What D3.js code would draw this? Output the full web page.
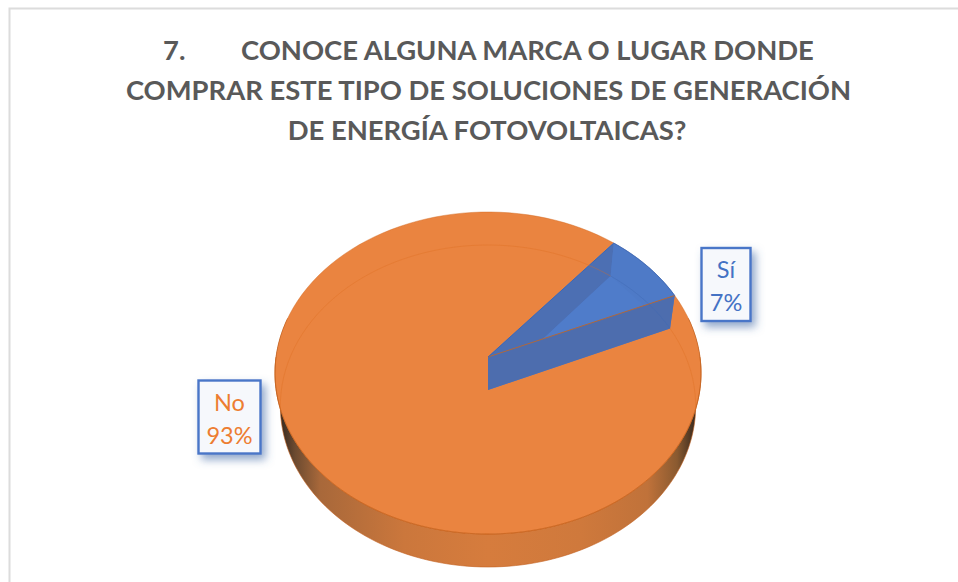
<!DOCTYPE html>
<html><head><meta charset="utf-8">
<style>html,body{margin:0;padding:0;background:#fff}svg{display:block}</style>
<script src="https://cdn.jsdelivr.net/npm/d3@7"></script></head>
<body><svg id="c" width="958" height="582"></svg>
<script>
const categories = ["Sí", "No"];
const seriesValues = [0.074, 0.926];
const sliceColors = ["#4e7ac7", "#ea8440"];
const labelColors = ["#4472c4", "#ed7d31"];
const titleNumber = "7.";
const titleLines = ["CONOCE ALGUNA MARCA O LUGAR DONDE",
  "COMPRAR ESTE TIPO DE SOLUCIONES DE GENERACIÓN",
  "DE ENERGÍA FOTOVOLTAICAS?"];

const svg = d3.select("#c");
const W = 958, H = 582;
const defs = svg.append("defs");

// frame
svg.append("path").attr("d", `M${W},8.5H9.5V${H}`).attr("fill","none").attr("stroke","#dcdcdc").attr("stroke-width",2);

// title
const title = svg.append("g").attr("fill","#595959").attr("font-family","Lato, 'Open Sans', sans-serif")
  .attr("font-weight",700).attr("font-size",27.4);
title.append("text").attr("x",163).attr("y",60).text(titleNumber);
title.append("text").attr("x",241).attr("y",60).text(titleLines[0]);
title.append("text").attr("x",488.5).attr("y",100).attr("text-anchor","middle").text(titleLines[1]);
title.append("text").attr("x",487).attr("y",140).attr("text-anchor","middle").text(titleLines[2]);

// perspective projection of a unit circle
const cx = 488, cyTop = 357, depth = 33;
const backR = 145, frontR = 177, rx = 213, bottomScale = 0.975;
const persp = (frontR - backR) / (frontR + backR);
const ay = backR * (1 + persp);
const dx = rx * Math.sqrt(1 - persp * persp);
const su = d3.scaleLinear().domain([-1,1]).range([-dx,dx]);
const sv = d3.scaleLinear().domain([-1,1]).range([ay,-ay]);
function proj(a, r, bottom) {
  const u = r*Math.sin(a), v = r*Math.cos(a), w = 1 + persp*v;
  const s = bottom ? bottomScale : 1;
  return [cx + su(u)/w*s, cyTop + (bottom?depth:0) + sv(v)/w];
}
const lineGen = d3.line();
const arcPts = (a0,a1,bottom) => d3.range(0,121).map(i=>proj(a0+(a1-a0)*i/120,1,bottom));

const rot = 39.7*Math.PI/180;
const pie = d3.pie().sort(null).startAngle(rot).endAngle(rot+2*Math.PI);
const arcs = pie(seriesValues);
const si = arcs[0], no = arcs[1];

// side wall
const grad = defs.append("linearGradient").attr("id","wall").attr("gradientUnits","userSpaceOnUse")
  .attr("x1",278).attr("x2",698).attr("y1",0).attr("y2",0);
[[0,"#2e241c"],[0.04,"#6b4a30"],[0.10,"#a8683a"],[0.3,"#cb773c"],[0.5,"#d67c3d"],[0.72,"#cf793c"],[0.88,"#c0723a"],[0.95,"#8a5a30"],[1,"#2e241c"]]
  .forEach(s=>grad.append("stop").attr("offset",s[0]).attr("stop-color",s[1]));
const h = Math.PI/2;
const outer = arcPts(h-0.25,3*h+0.25,true);
const inner = arcPts(3*h+0.25,h-0.25,false);
svg.append("path").attr("d",lineGen(outer.concat(inner))+"Z").attr("fill","url(#wall)")
  .attr("stroke","#c2601f").attr("stroke-width",0.6);

// No slice top
const noPts = [proj(0,0,false)].concat(arcPts(no.startAngle,no.endAngle,false));
svg.append("path").attr("d",lineGen(noPts)+"Z").attr("fill",sliceColors[1]);
svg.append("path").attr("d",lineGen(arcPts(no.startAngle,no.endAngle,false)))
  .attr("fill","none").attr("stroke","#d0681f").attr("stroke-opacity",0.55).attr("stroke-width",0.8);
svg.append("path").attr("d",lineGen(arcPts(h,3*h,false)))
  .attr("fill","none").attr("stroke","#c9641f").attr("stroke-opacity",0.8).attr("stroke-width",0.9);

// Sí slice (recessed)
const apexT = proj(0,0,false), apexB = proj(0,0,true);
const a0 = si.startAngle, a1 = si.endAngle;
svg.append("path").attr("d",lineGen([apexT].concat(arcPts(a0,a1,false)))+"Z").attr("fill",sliceColors[0]);
svg.append("path").attr("d",lineGen([apexT,proj(a0,1,false),proj(a0,1,true),apexB])+"Z").attr("fill","#4c6fb3");
svg.append("path").attr("d",lineGen([apexB].concat(arcPts(a0,a1,true)))+"Z").attr("fill","#4f7cca");
svg.append("path").attr("d",lineGen([proj(a0,1,true)].concat(arcPts(a0,a1,false),[proj(a1,1,true)]))+"Z").attr("fill","#4e7ac7");
svg.append("path").attr("d",lineGen([apexT,proj(a1,1,false),proj(a1,1,true),apexB])+"Z").attr("fill","#4d6dae");
svg.append("path").attr("d",lineGen([apexT,proj(a1,1,false)])).attr("stroke","#b0683c").attr("stroke-width",1).attr("fill","none");
svg.append("path").attr("d",lineGen([apexT,proj(a0,1,false)])).attr("stroke","#3f66b0").attr("stroke-width",1).attr("fill","none");
svg.append("path").attr("d",lineGen(arcPts(a0,a1,false))).attr("stroke","#3f66b0").attr("stroke-width",1).attr("fill","none");

// faint far rim of the bottom seen through the surface
const clip = defs.append("clipPath").attr("id","topClip");
clip.append("path").attr("d",lineGen(arcPts(0,2*Math.PI,false))+"Z");
svg.append("path").attr("d",lineGen(arcPts(no.startAngle,no.endAngle,true)))
  .attr("clip-path","url(#topClip)").attr("fill","none").attr("stroke","#dc6c20").attr("stroke-opacity",0.45).attr("stroke-width",0.8);
svg.append("path").attr("d",lineGen(arcPts(a0,a1,true)))
  .attr("fill","none").attr("stroke","#4269b4").attr("stroke-opacity",0.6).attr("stroke-width",0.8);

// data labels
const f = defs.append("filter").attr("id","sh").attr("x","-40%").attr("y","-40%").attr("width","190%").attr("height","190%");
f.append("feDropShadow").attr("dx",4).attr("dy",5).attr("stdDeviation",4).attr("flood-color","#4a6ea8").attr("flood-opacity",0.6);
const pct = d3.format(".0%");
const boxes = [{x:701.5,y:248,w:49,h:73},{x:198.5,y:380.5,w:62,h:73}];
categories.forEach((c,i)=>{
  const b = boxes[i], g = svg.append("g");
  g.append("rect").attr("x",b.x).attr("y",b.y).attr("width",b.w).attr("height",b.h)
    .attr("fill","#f6f8fc").attr("stroke","#4a76c8").attr("stroke-width",2.4).attr("filter","url(#sh)");
  const t = g.append("text").attr("text-anchor","middle").attr("fill",labelColors[i])
    .attr("font-family","Lato, 'Open Sans', sans-serif").attr("font-size",23.5);
  t.append("tspan").attr("x",b.x+b.w/2).attr("y",b.y+30).text(c);
  t.append("tspan").attr("x",b.x+b.w/2).attr("y",b.y+63).text(pct(seriesValues[i]));
});
</script></body></html>
